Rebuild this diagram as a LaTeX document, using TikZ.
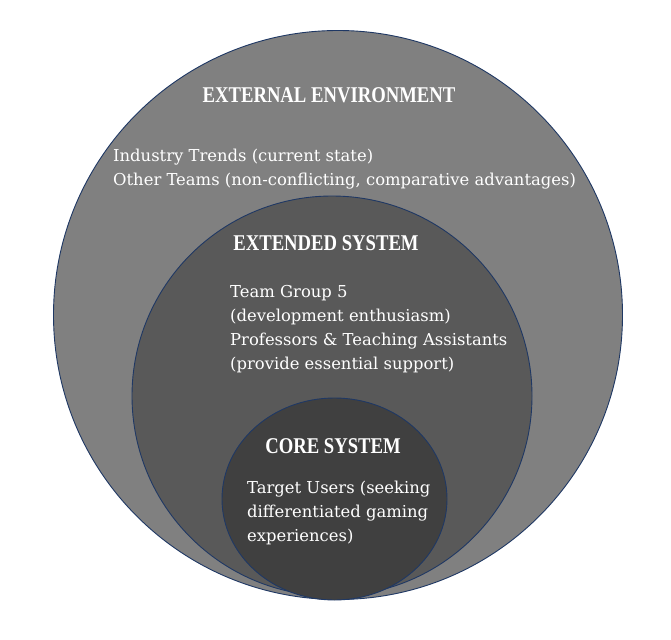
\documentclass[tikz,border=0pt]{standalone}
\usepackage{fontspec}
\setmainfont{DejaVu Serif}
\newfontfamily\headfont[FakeStretch=0.83]{Liberation Serif}
\definecolor{rimblue}{HTML}{1F3864}
\definecolor{outergray}{HTML}{808080}
\definecolor{midgray}{HTML}{595959}
\definecolor{coregray}{HTML}{404040}

\begin{document}
\begin{tikzpicture}[x=1pt, y=-1pt, ring/.style={draw=rimblue, line width=0.9pt}, head/.style={text=white, inner sep=0pt, font=\headfont\bfseries\fontsize{22.5}{26}\selectfont}, items/.style={text=white, inner sep=0pt, anchor=north west, align=left, font=\fontsize{16.4}{24}\selectfont}]
\useasboundingbox (0,0) rectangle (671,639);
\fill[white] (0,0) rectangle (671,639);
\draw[ring, fill=outergray] (338,315) circle (284.5pt);
\draw[ring, fill=midgray] (332,396) circle (200pt);
\draw[ring, fill=coregray] (334.5,499) ellipse (112.5pt and 101pt);
\node[head] (envhead) at (329,95) {EXTERNAL ENVIRONMENT};
\node[items] (envitems) at (113,149) {Industry Trends (current state)\\Other Teams (non-conflicting, comparative advantages)};
\node[head] (exthead) at (326,243) {EXTENDED SYSTEM};
\node[items] (extitems) at (230,285) {Team Group 5\\(development enthusiasm)\\Professors \& Teaching Assistants\\(provide essential support)};
\node[head] (corehead) at (333,446) {CORE SYSTEM};
\node[items] (coreitems) at (247,481) {Target Users (seeking\\differentiated gaming\\experiences)};
\end{tikzpicture}
\end{document}
